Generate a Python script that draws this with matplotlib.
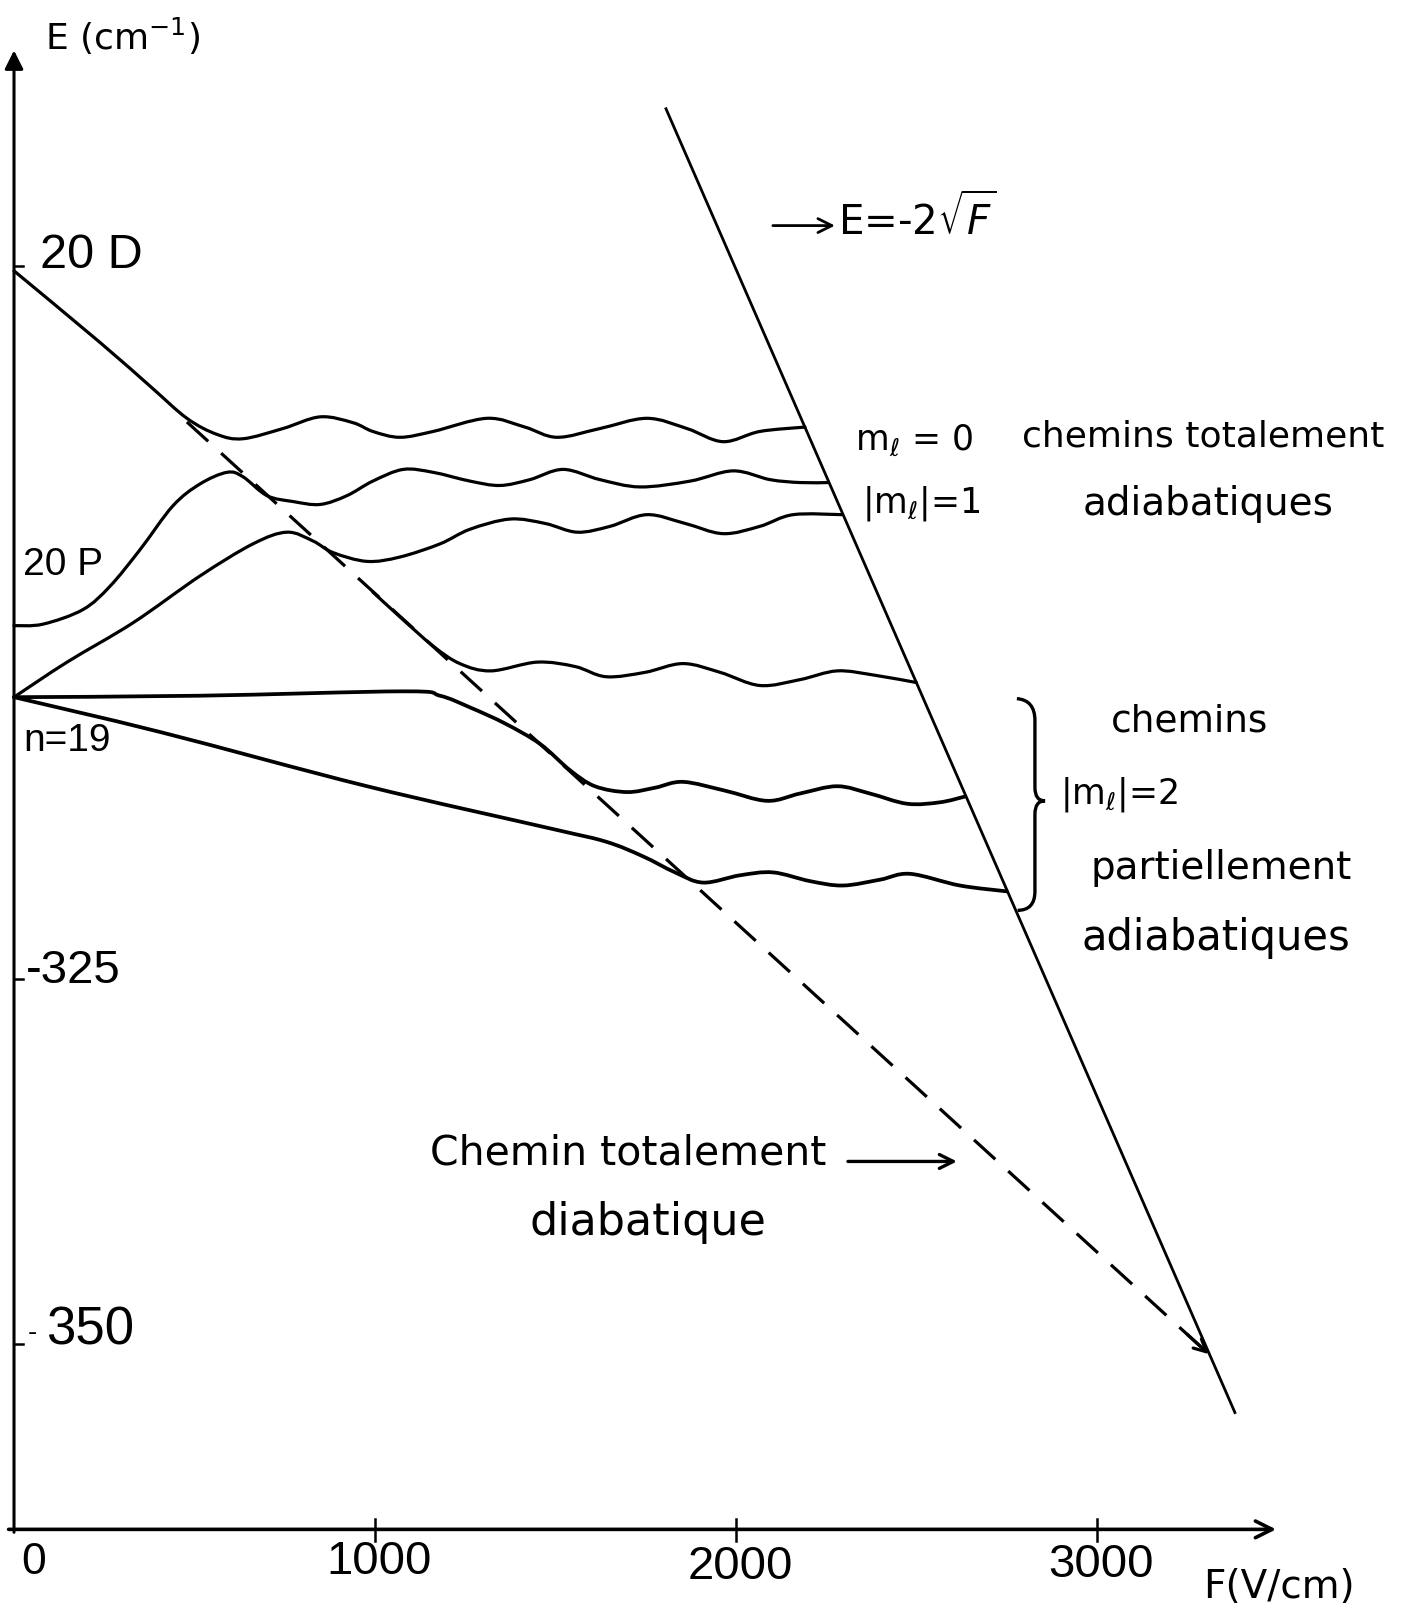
import numpy as np
import matplotlib.pyplot as plt
from matplotlib.path import Path
from matplotlib.patches import PathPatch

# curves: F in V/cm, E in cm-1
F_m0 = [0, 238, 377, 479, 562, 634, 745, 848, 939, 994, 1069, 1161, 1310, 1415, 1504, 1623, 1753, 1864, 1964, 2066, 2191]
E_m0 = [-276.5, -281.4, -284.4, -286.6, -287.7, -288.0, -287.3, -286.5, -286.9, -287.5, -287.9, -287.5, -286.6, -287.2,
        -287.9, -287.3, -286.6, -287.3, -288.2, -287.5, -287.2]

F_20p = [0, 80, 191, 266, 349, 440, 515, 590, 634, 701, 773, 848, 922, 994, 1078, 1161, 1263, 1346, 1429, 1521, 1623,
         1734, 1873, 1992, 2094, 2177, 2255]
E_20p = [-300.8, -300.7, -299.7, -298.1, -295.6, -292.6, -291.1, -290.3, -290.6, -291.9, -292.3, -292.5, -291.9, -290.9,
         -290.1, -290.3, -290.9, -291.2, -290.8, -290.1, -290.8, -291.3, -290.9, -290.2, -290.8, -291.0, -291.0]

F_m1 = [0, 147, 330, 515, 662, 756, 828, 884, 978, 1069, 1180, 1263, 1374, 1471, 1560, 1651, 1753, 1859, 1964, 2066, 2158, 2295]
E_m1 = [-305.7, -303.3, -300.6, -297.4, -295.2, -294.4, -295.0, -295.8, -296.4, -296.1, -295.2, -294.2, -293.5, -293.8,
        -294.4, -294.0, -293.2, -293.8, -294.5, -294.0, -293.2, -293.2]

F_m2a = [994, 1069, 1161, 1235, 1321, 1449, 1554, 1640, 1748, 1853, 1956, 2066, 2177, 2280, 2385, 2500]
E_m2a = [-298.5, -300.2, -302.2, -303.4, -303.9, -303.3, -303.6, -304.3, -304.0, -303.4, -304.0, -304.9, -304.5, -303.9,
         -304.2, -304.7]

F_m2b = [0, 515, 1080, 1180, 1263, 1360, 1457, 1540, 1609, 1698, 1776, 1853, 1969, 2086, 2177, 2280, 2371, 2474, 2565, 2635]
E_m2b = [-305.7, -305.6, -305.3, -305.6, -306.4, -307.5, -308.9, -310.7, -311.8, -312.2, -311.9, -311.5, -312.1, -312.8,
         -312.3, -311.8, -312.3, -313.0, -312.9, -312.5]

F_m2c = [0, 407, 978, 1487, 1640, 1742, 1831, 1909, 2011, 2102, 2205, 2296, 2399, 2482, 2620, 2750]
E_m2c = [-305.7, -308.1, -311.8, -314.7, -315.6, -316.6, -317.7, -318.4, -317.9, -317.7, -318.3, -318.6, -318.2, -317.8,
         -318.6, -319.0]

F_diab = [479, 3310]
E_diab = [-286.85, -350.7]

F_lim = [1806, 3382]
E_lim = [-265.4, -354.7]

xticks = [1000, 2000, 3000]
xtick_labels = ['1000', '2000', '3000']
yticks = [-276.2, -325, -350]


def smooth(ax, F, E, lw=2.3):
    p = np.column_stack([F, E]).astype(float)
    q = np.vstack([p[0], p, p[-1]])
    verts = [p[0]]
    codes = [Path.MOVETO]
    for i in range(1, len(q) - 2):
        verts += [q[i] + (q[i + 1] - q[i - 1]) / 6, q[i + 1] - (q[i + 2] - q[i]) / 6, q[i + 1]]
        codes += [Path.CURVE4] * 3
    ax.add_patch(PathPatch(Path(verts, codes), fill=False, lw=lw, edgecolor='black',
                           capstyle='round', joinstyle='round'))


fig = plt.figure(figsize=(14.05, 16.06), dpi=100)
ax = fig.add_axes([0, 0, 1, 1])
ax.set_xlim(-38.8, 3853.1)
ax.set_ylim(-367.88, -257.88)
ax.axis('off')

# axes with arrows
ax.annotate('', xy=(0, -261.4), xytext=(0, -362.9),
            arrowprops=dict(arrowstyle='-|>', lw=2.2, color='k', mutation_scale=28, shrinkA=0, shrinkB=0))
ax.annotate('', xy=(3496, -362.7), xytext=(-15, -362.7),
            arrowprops=dict(arrowstyle='->', lw=2.6, color='k', mutation_scale=30, shrinkA=0, shrinkB=0))
for t in xticks:
    ax.plot([t, t], [-362.0, -363.5], color='k', lw=1.8)
for t in yticks:
    ax.plot([0, 25], [t, t], color='k', lw=1.8)

smooth(ax, F_m0, E_m0)
smooth(ax, F_20p, E_20p)
smooth(ax, F_m1, E_m1)
smooth(ax, F_m2a, E_m2a)
smooth(ax, F_m2b, E_m2b, lw=2.7)
smooth(ax, F_m2c, E_m2c, lw=2.7)

ax.plot(F_lim, E_lim, color='k', lw=2.0)
ax.plot(F_diab, E_diab, color='k', lw=2.3, dashes=(9, 5.5))
ax.annotate('', xy=(F_diab[1], E_diab[1]), xytext=(F_diab[1] - 60, E_diab[1] + 60 * 0.02255),
            arrowprops=dict(arrowstyle='->', lw=2.3, color='k', mutation_scale=22, shrinkA=0, shrinkB=0))

num = dict(family='Liberation Sans', color='black', va='center')
hand = dict(family='DejaVu Sans', color='black', va='center')

ax.text(86, -260.4, 'E (cm$^{-1}$)', fontsize=26, **hand)
ax.text(72, -275.4, '20 D', fontsize=35, **num)
ax.text(26, -296.6, '20 P', fontsize=28, **num)
ax.text(26, -308.6, 'n=19', fontsize=28, **num)
ax.text(33, -324.4, '-325', fontsize=34, **num)
ax.text(39, -349.2, '-', fontsize=20, **num)
ax.text(89, -349.0, '350', fontsize=38, **num)
ax.text(55, -364.9, '0', fontsize=32, ha='center', **num)
for t, lab, e in zip(xticks, xtick_labels, [-364.9, -365.2, -365.1]):
    ax.text(t + 11, e, lab, fontsize=34, ha='center', **num)
ax.text(3294, -366.6, 'F(V/cm)', fontsize=28, **hand)

ax.annotate('', xy=(2274, -273.4), xytext=(2102, -273.4),
            arrowprops=dict(arrowstyle='->', lw=2.0, color='k', mutation_scale=25, shrinkA=0, shrinkB=0))
ax.text(2282, -272.9, r'E=-2$\sqrt{F}$', fontsize=29, **hand)

ax.text(2330, -288.0, r'm$_\ell$ = 0', fontsize=25, **hand)
ax.text(2349, -292.4, r'|m$_\ell$|=1', fontsize=25, **hand)
ax.text(2792, -287.8, 'chemins totalement', fontsize=26, **hand)
ax.text(2961, -292.4, 'adiabatiques', fontsize=28, **hand)

ax.text(3039, -307.3, 'chemins', fontsize=27, **hand)
ax.text(2897, -312.3, r'|m$_\ell$|=2', fontsize=25, **hand)
ax.text(2983, -317.3, 'partiellement', fontsize=28, **hand)
ax.text(2958, -322.1, 'adiabatiques', fontsize=30, **hand)

# curly brace
bv = [(2778, -305.8), (2828, -305.9), (2828, -307.3), (2828, -311.9),
      (2828, -312.8), (2856, -312.8), (2828, -312.8), (2828, -313.7),
      (2828, -319.0), (2828, -320.3), (2780, -320.3)]
bc = [Path.MOVETO, Path.CURVE3, Path.CURVE3, Path.LINETO,
      Path.CURVE3, Path.CURVE3, Path.CURVE3, Path.CURVE3,
      Path.LINETO, Path.CURVE3, Path.CURVE3]
ax.add_patch(PathPatch(Path(bv, bc), fill=False, lw=2.4, edgecolor='k'))

ax.text(1152, -336.9, 'Chemin totalement', fontsize=29.5, **hand)
ax.annotate('', xy=(2612, -337.5), xytext=(2310, -337.5),
            arrowprops=dict(arrowstyle='->', lw=2.4, color='k', mutation_scale=25, shrinkA=0, shrinkB=0))
ax.text(1429, -341.6, 'diabatique', fontsize=32, **hand)

fig.savefig('out.png', dpi=100)
